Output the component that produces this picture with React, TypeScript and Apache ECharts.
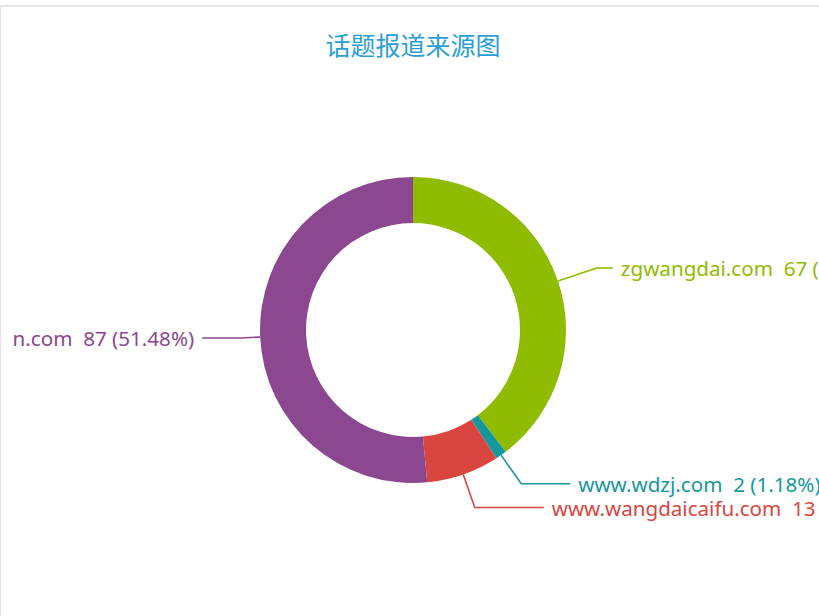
import React, { useEffect, useRef } from "react";
import * as echarts from "echarts";

const titleText = "话题报道来源图";
const sourceNames = ["zgwangdai.com", "www.wdzj.com", "www.wangdaicaifu.com", "n.com"];
const sourceCounts = [67, 2, 13, 87];
const sourceColors = ["#8fbb00", "#17979b", "#d9463f", "#8b4790"];
const lineLengths = [41, 35, 35, 20];
const lineLengths2 = [16, 49, 69, 38];

export default function App() {
  const ref = useRef<HTMLDivElement>(null);
  useEffect(() => {
    if (!ref.current) return;
    const chart = echarts.init(ref.current, undefined, { renderer: "svg" });
    chart.setOption({
      animation: false,
      title: {
        text: titleText,
        left: "center",
        top: 19,
        textStyle: {
          color: "#2a9ed6",
          fontSize: 25,
          fontWeight: "normal",
          fontFamily: "Noto Sans CJK SC",
        },
      },
      color: sourceColors,
      series: [
        {
          type: "pie",
          center: [412, 323],
          radius: [107, 153],
          startAngle: 90,
          clockwise: true,
          avoidLabelOverlap: false,
          label: {
            show: true,
            formatter: "{b}  {c} ({d}%)",
            fontSize: 20.6,
            fontFamily: "Noto Sans",
            overflow: "none",
            distanceToLabelLine: 8,
          },
          labelLine: { show: true, lineStyle: { width: 1.6 } },
          emphasis: { scale: false },
          data: sourceNames.map((n, i) => ({
            name: n,
            value: sourceCounts[i],
            label: { color: sourceColors[i] },
            labelLine: { length: lineLengths[i], length2: lineLengths2[i] },
          })),
        },
      ],
    });
    return () => chart.dispose();
  }, []);
  return (
    <div style={{ position: "fixed", left: 0, top: 0, width: 819, height: 616, overflow: "hidden", background: "#fff" }}>
      <div
        style={{
          position: "absolute",
          left: 0,
          top: 5,
          width: 824,
          height: 700,
          borderTop: "2px solid #e2e2e2",
          borderLeft: "1px solid #e2e2e2",
        }}
      >
        <div ref={ref} style={{ width: 824, height: 690 }} />
      </div>
    </div>
  );
}
